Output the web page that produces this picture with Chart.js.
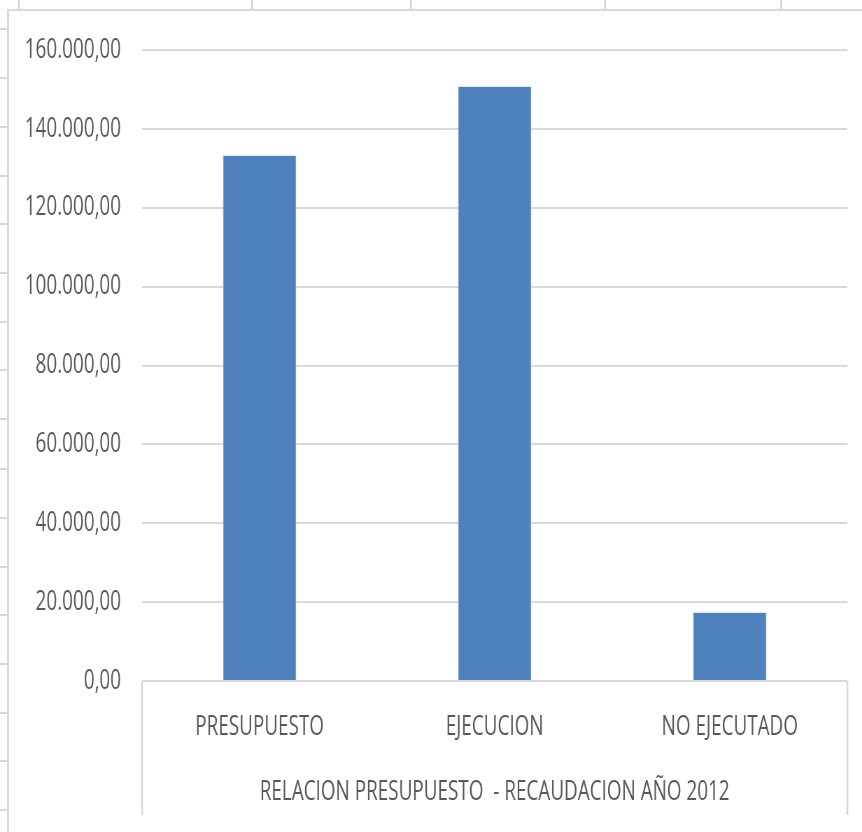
<!DOCTYPE html>
<html>
<head>
<meta charset="utf-8">
<script src="https://cdn.jsdelivr.net/npm/chart.js@4/dist/chart.umd.min.js"></script>
<style>
  html, body { margin: 0; padding: 0; background: #fff; overflow: hidden; }
  body { width: 862px; height: 832px; position: relative; }
  /* chart is drawn wide, then squeezed horizontally like the screenshot */
  #wrap {
    position: absolute; left: 0; top: 0;
    width: 1232px; height: 832px;
    transform: scaleX(0.6997); transform-origin: 0 0;
  }
  .ln { position: absolute; background: #d9d9d9; }
</style>
</head>
<body>
<div id="sheet"></div>
<div id="wrap"><canvas id="chart"></canvas></div>
<script>
// ── data ─────────────────────────────────────────
const categories = ['PRESUPUESTO', 'EJECUCION', 'NO EJECUTADO'];
const values     = [133400, 150900, 17500];
const axisTitle  = 'RELACION PRESUPUESTO  - RECAUDACION AÑO 2012';
const yMin = 0, yMax = 160000, yStep = 20000;

// spreadsheet cell lines behind the chart object
const sheetCols = [19, 252, 411, 605, 781];
const sheetRows = [29, 78, 127, 176, 224, 273, 322, 370, 419, 469, 518, 567, 615, 664, 713, 761, 810];

const SX = 0.6997;
const TXT = '#595959';
const FONT = 'Open Sans';

// ── spreadsheet + chart frame (plain divs) ─────────
(function drawSheet() {
    const s = document.getElementById('sheet');
    const add = (l, t, w, h) => {
        const d = document.createElement('div');
        d.className = 'ln';
        d.style.cssText = `left:${l}px;top:${t}px;width:${w}px;height:${h}px`;
        s.appendChild(d);
    };
    sheetCols.forEach(x => add(x - 1, 0, 2, 10));
    sheetRows.forEach(y => add(0, y - 1, 8, 2));
    add(7, 9, 855, 2);   // frame top
    add(7, 9, 2, 823);   // frame left
})();

function fmt(v) {
    const s = Math.round(v).toString().replace(/\B(?=(\d{3})+(?!\d))/g, '.');
    return s + ',00';
}

// outer dividers of the category axis box
const axisBox = {
    id: 'axisBox',
    afterDraw(chart) {
        const x = chart.scales.x, c = chart.ctx;
        c.save();
        c.strokeStyle = '#d9d9d9';
        c.lineWidth = 2 / SX;
        [x.left, x.right].forEach(px => {
            c.beginPath();
            c.moveTo(px, x.top);
            c.lineTo(px, x.top + 134);
            c.stroke();
        });
        c.restore();
    }
};

new Chart(document.getElementById('chart'), {
    type: 'bar',
    data: {
        labels: categories,
        datasets: [{
            data: values,
            backgroundColor: '#4f81bd',
            borderColor: '#dfe6ef',
            borderWidth: 1,
            categoryPercentage: 1,
            barPercentage: 0.314
        }]
    },
    options: {
        responsive: true, maintainAspectRatio: false,
        animation: false,
        layout: { padding: { top: 50, right: 21, bottom: 0, left: 0 } },
        plugins: { legend: { display: false }, tooltip: { enabled: false } },
        scales: {
            y: {
                min: yMin, max: yMax,
                ticks: {
                    stepSize: yStep,
                    padding: 30,
                    color: TXT,
                    font: { family: FONT, size: 27 },
                    callback: v => fmt(v)
                },
                grid: { color: '#d9d9d9', lineWidth: 2, drawTicks: false },
                border: { display: false },
                afterFit: s => { s.width = 203; }
            },
            x: {
                ticks: {
                    padding: 30,
                    color: TXT,
                    font: { family: FONT, size: 27 },
                    maxRotation: 0, autoSkip: false
                },
                grid: { display: false, drawTicks: false },
                border: { display: false },
                title: {
                    display: true,
                    text: axisTitle,
                    color: TXT,
                    font: { family: FONT, size: 27 },
                    padding: { top: 0, bottom: 23 }
                },
                afterFit: s => { s.height = 151; }
            }
        }
    },
    plugins: [axisBox]
});
</script>
</body>
</html>
